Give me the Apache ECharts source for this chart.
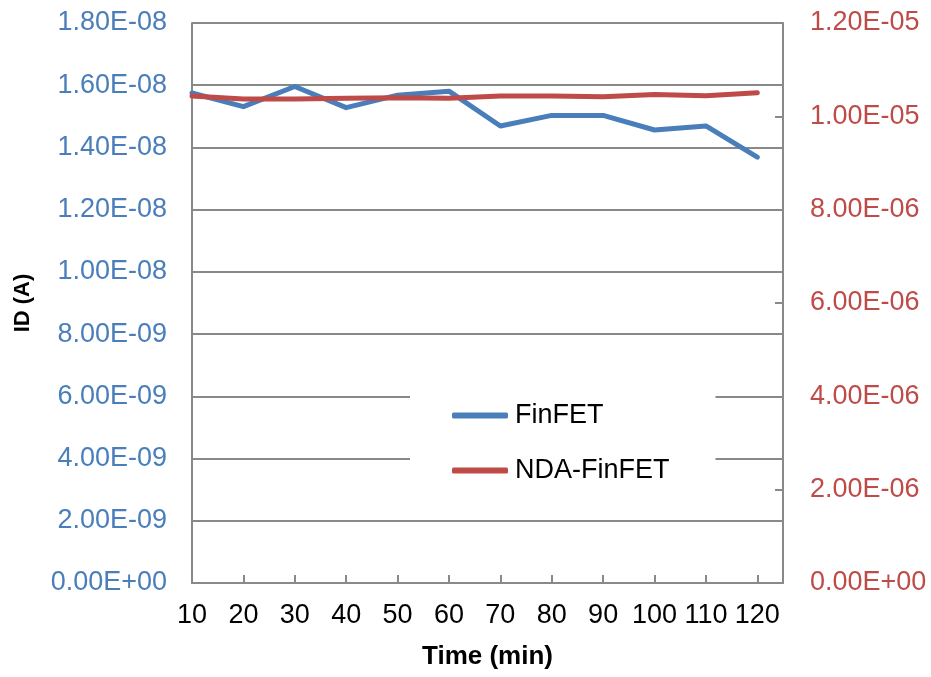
<!DOCTYPE html>
<html>
<head>
<meta charset="utf-8">
<script src="https://cdn.jsdelivr.net/npm/echarts@6/dist/echarts.min.js"></script>
<style>
html, body { margin: 0; padding: 0; background: #fff; }
#myChart { width: 931px; height: 677px; }
</style>
</head>
<body>
<div id="myChart"></div>
<script>
// time (min)
const times = [10, 20, 30, 40, 50, 60, 70, 80, 90, 100, 110, 120]
// ID (A), left axis
const finfet = [1.575e-8, 1.531e-8, 1.596e-8, 1.528e-8, 1.568e-8, 1.581e-8, 1.469e-8, 1.503e-8, 1.503e-8, 1.456e-8, 1.469e-8, 1.369e-8]
// ID (A), right axis
const ndaFinfet = [1.0436e-5, 1.037e-5, 1.037e-5, 1.0387e-5, 1.040e-5, 1.0387e-5, 1.0436e-5, 1.0436e-5, 1.042e-5, 1.047e-5, 1.044e-5, 1.0507e-5]

const FONT = '"Liberation Sans", Arial, sans-serif'
const GRAY = '#898989'
const BLUE = '#4A7EBB'
const RED = '#BE4B48'

// 1.80E-08 style labels
function sci(v) {
  if (v === 0) return '0.00E+00'
  let parts = v.toExponential(2).split('e')
  let e = parseInt(parts[1])
  return parts[0] + 'E' + (e < 0 ? '-' : '+') + String(Math.abs(e)).padStart(2, '0')
}

let myChart = echarts.init(document.getElementById('myChart'))
myChart.setOption({
  animation: false,
  textStyle: { fontFamily: FONT },
  grid: { left: 192, right: 148, top: 23, bottom: 94 },
  legend: {
    orient: 'vertical',
    left: 410,
    top: 385,
    backgroundColor: '#fff',
    padding: [17, 46, 17, 42],
    itemGap: 28,
    itemWidth: 56,
    itemHeight: 6,
    icon: 'roundRect',
    textStyle: { fontSize: 27, color: '#000', fontFamily: FONT, padding: [0, 0, 0, 2] },
    data: ['FinFET', 'NDA-FinFET'],
  },
  xAxis: {
    type: 'value',
    min: 10,
    max: 125,
    interval: 10,
    name: 'Time (min)',
    nameLocation: 'middle',
    nameGap: 61,
    nameTextStyle: { fontSize: 26, fontWeight: 'bold', color: '#000', fontFamily: FONT },
    axisLine: { lineStyle: { color: GRAY, width: 2 } },
    axisTick: { inside: true, length: 8, lineStyle: { color: GRAY, width: 2 } },
    axisLabel: { showMaxLabel: false, fontSize: 27, color: '#000', margin: 19, fontFamily: FONT },
    splitLine: { show: false },
  },
  yAxis: [
    {
      type: 'value',
      min: 0,
      max: 1.8e-8,
      interval: 2e-9,
      name: 'ID (A)',
      nameLocation: 'middle',
      nameGap: 158,
      nameTextStyle: { fontSize: 22, fontWeight: 'bold', color: '#000', fontFamily: FONT },
      axisLine: { show: true, lineStyle: { color: GRAY, width: 2 } },
      axisTick: { show: false },
      axisLabel: { formatter: sci, fontSize: 27, color: BLUE, margin: 25, fontFamily: FONT },
      splitLine: { show: true, lineStyle: { color: GRAY, width: 2 } },
    },
    {
      type: 'value',
      position: 'right',
      min: 0,
      max: 1.2e-5,
      interval: 2e-6,
      axisLine: { show: true, lineStyle: { color: GRAY, width: 2 } },
      axisTick: { show: true, inside: true, length: 8, lineStyle: { color: GRAY, width: 2 } },
      axisLabel: { formatter: sci, fontSize: 27, color: RED, margin: 27, fontFamily: FONT },
      splitLine: { show: false },
    },
  ],
  series: [
    {
      name: 'FinFET',
      type: 'line',
      yAxisIndex: 0,
      data: times.map((t, i) => [t, finfet[i]]),
      showSymbol: false,
      symbol: 'none',
      color: BLUE,
      lineStyle: { width: 5, color: BLUE, cap: 'round', join: 'round' },
    },
    {
      name: 'NDA-FinFET',
      type: 'line',
      yAxisIndex: 1,
      data: times.map((t, i) => [t, ndaFinfet[i]]),
      showSymbol: false,
      symbol: 'none',
      color: RED,
      lineStyle: { width: 5, color: RED, cap: 'round', join: 'round' },
    },
  ],
})
</script>
</body>
</html>
